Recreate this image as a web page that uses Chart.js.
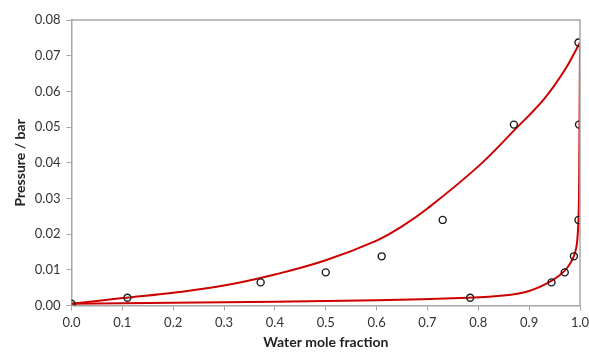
<!DOCTYPE html>
<html>
<head>
<meta charset="utf-8">
<script src="https://cdn.jsdelivr.net/npm/chart.js@4.4.1/dist/chart.umd.min.js"></script>
<style>
  body { margin: 0; background: #fff; }
  #wrap { width: 589px; height: 352px; }
</style>
</head>
<body>
<div id="wrap"><canvas id="vleChart" width="589" height="352"></canvas></div>
<script>
// measured points (water mole fraction, pressure in bar)
var expX = [0, 0.11, 0.372, 0.50, 0.61, 0.73, 0.87, 0.997, 0.998, 0.997, 0.988, 0.97, 0.944, 0.784];
var expP = [0.0005, 0.0022, 0.0065, 0.0093, 0.0138, 0.024, 0.0507, 0.0737, 0.0507, 0.024, 0.0138, 0.0093, 0.0065, 0.0022];

// upper red curve
var upperX = [0, 0.1, 0.2, 0.3, 0.4, 0.5, 0.6, 0.65, 0.7, 0.8, 0.87, 0.93, 0.97, 1.0];
var upperP = [0.0005, 0.0021, 0.0036, 0.0056, 0.0087, 0.0127, 0.0182, 0.0222, 0.0272, 0.039, 0.049, 0.058, 0.066, 0.0737];

// lower red curve
var lowerX = [0, 0.2, 0.4, 0.6, 0.78, 0.85, 0.9, 0.935, 0.96, 0.975, 0.987, 0.993, 0.996, 0.998, 0.999, 1.0];
var lowerP = [0.0005, 0.0008, 0.0011, 0.0015, 0.0022, 0.0028, 0.0041, 0.0062, 0.0085, 0.0106, 0.0135, 0.0165, 0.021, 0.03, 0.05, 0.0737];

var xTicks = [0, 0.1, 0.2, 0.3, 0.4, 0.5, 0.6, 0.7, 0.8, 0.9, 1.0];
var yTicks = [0, 0.01, 0.02, 0.03, 0.04, 0.05, 0.06, 0.07, 0.08];

function pairs(xs, ys) {
    return xs.map(function(x, i) { return { x: x, y: ys[i] }; });
}

var frameBox = {
    id: 'frameBox',
    afterDraw: function(chart) {
        var a = chart.chartArea, ctx = chart.ctx;
        ctx.save();
        ctx.strokeStyle = '#a6a6a6';
        ctx.lineWidth = 1.5;
        ctx.beginPath();
        ctx.moveTo(a.left, a.top);
        ctx.lineTo(a.right, a.top);
        ctx.lineTo(a.right, a.bottom);
        ctx.stroke();
        ctx.restore();
    }
};

var ctx = document.getElementById('vleChart').getContext('2d');
var vleChart = new Chart(ctx, {
    type: 'scatter',
    data: {
        datasets: [{
            label: 'Experimental',
            data: pairs(expX, expP),
            pointStyle: 'circle',
            pointRadius: 3.5,
            pointBorderWidth: 1.4,
            pointBorderColor: '#1a1a1a',
            pointBackgroundColor: 'rgba(255,255,255,0)',
            showLine: false
        }, {
            label: 'Upper curve',
            data: pairs(upperX, upperP),
            showLine: true,
            borderColor: '#cc0000',
            borderWidth: 2,
            pointRadius: 0,
            tension: 0.4
        }, {
            label: 'Lower curve',
            data: pairs(lowerX, lowerP),
            showLine: true,
            borderColor: '#cc0000',
            borderWidth: 2,
            pointRadius: 0,
            tension: 0.3
        }]
    },
    options: {
        responsive: false,
        animation: false,
        layout: { padding: { top: 20, right: 0, left: 0, bottom: 1 } },
        plugins: { legend: { display: false }, tooltip: { enabled: false } },
        scales: {
            x: {
                type: 'linear',
                min: 0,
                max: 1,
                afterBuildTicks: function(axis) { axis.ticks = xTicks.map(function(v) { return { value: v }; }); },
                afterFit: function(axis) { axis.paddingRight = 9; },
                grid: { drawOnChartArea: false, drawTicks: true, tickLength: 5, color: '#a6a6a6' },
                border: { color: '#a6a6a6', width: 1.5 },
                ticks: {
                    color: '#333',
                    font: { family: 'Lato', size: 13 },
                    padding: 4,
                    callback: function(v) { return v.toFixed(1); }
                },
                title: {
                    display: true,
                    text: 'Water mole fraction',
                    color: '#222',
                    font: { family: 'Lato', size: 14, weight: 'bold' },
                    padding: { top: 0, bottom: 0 }
                }
            },
            y: {
                min: 0,
                max: 0.08,
                afterBuildTicks: function(axis) { axis.ticks = yTicks.map(function(v) { return { value: v }; }); },
                grid: { drawOnChartArea: false, drawTicks: true, tickLength: 5, color: '#a6a6a6' },
                border: { color: '#a6a6a6', width: 1.5 },
                ticks: {
                    color: '#333',
                    font: { family: 'Lato', size: 13 },
                    padding: 6,
                    callback: function(v) { return v.toFixed(2); }
                },
                title: {
                    display: true,
                    text: 'Pressure / bar',
                    color: '#222',
                    font: { family: 'Lato', size: 14, weight: 'bold' },
                    padding: { top: 12, bottom: 0 }
                }
            }
        }
    },
    plugins: [frameBox]
});
</script>
</body>
</html>
